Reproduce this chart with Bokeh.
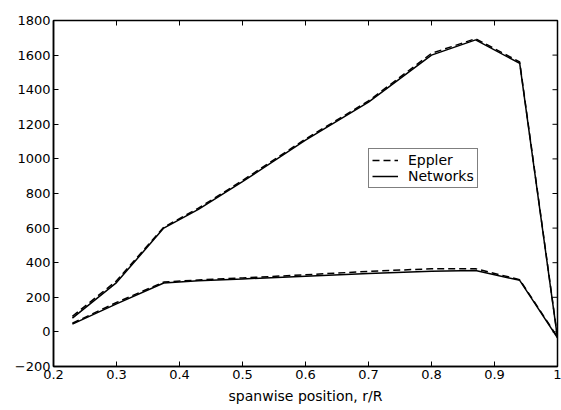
from bokeh.plotting import figure
from bokeh.models import FixedTicker, Legend, LegendItem, Range1d
from bokeh.embed import file_html
from bokeh.resources import INLINE

# spanwise positions
x_pos = [0.23, 0.30, 0.375, 0.43, 0.50, 0.60, 0.70, 0.80, 0.87, 0.94, 1.0]
# upper curve
eppler_upper = [90, 295, 605, 715, 875, 1115, 1335, 1610, 1695, 1560, -30]
networks_upper = [80, 285, 600, 708, 868, 1108, 1328, 1600, 1688, 1552, -35]
# lower curve
eppler_lower = [50, 170, 288, 300, 312, 330, 350, 365, 365, 302, -30]
networks_lower = [45, 162, 283, 296, 306, 322, 338, 350, 355, 298, -35]

x_ticks = [0.2, 0.3, 0.4, 0.5, 0.6, 0.7, 0.8, 0.9, 1.0]
x_tick_labels = ["0.2", "0.3", "0.4", "0.5", "0.6", "0.7", "0.8", "0.9", "1"]
y_ticks = [-200, 0, 200, 400, 600, 800, 1000, 1200, 1400, 1600, 1800]

FONT = "DejaVu Sans"
X0, X1 = 0.2, 1.0
Y0, Y1 = -200, 1800

p = figure(width=561, height=410, output_backend="svg", toolbar_location=None,
           x_range=Range1d(X0, X1), y_range=Range1d(Y0, Y1),
           min_border_left=53, min_border_right=4, min_border_top=20, min_border_bottom=44)
p.background_fill_color = "white"
p.border_fill_color = "white"
p.outline_line_color = "black"
p.outline_line_width = 1.5
p.grid.visible = False

p.xaxis.ticker = FixedTicker(ticks=x_ticks)
p.yaxis.ticker = FixedTicker(ticks=y_ticks)
p.xaxis.major_label_overrides = {t: l for t, l in zip(x_ticks, x_tick_labels)}
p.xaxis.axis_label = "spanwise position, r/R"

for ax in (p.xaxis[0], p.yaxis[0]):
    ax.major_tick_in = 5
    ax.major_tick_out = 0
    ax.minor_tick_line_color = None
    ax.axis_line_color = "black"
    ax.axis_line_width = 1.5
    ax.major_tick_line_color = "black"
    ax.major_label_text_font = FONT
    ax.major_label_text_font_size = "13px"
    ax.major_label_text_color = "black"
    ax.major_label_standoff = 3
    ax.axis_label_text_font = FONT
    ax.axis_label_text_font_size = "14px"
    ax.axis_label_text_font_style = "normal"
    ax.axis_label_text_color = "black"
    ax.axis_label_standoff = 6

# inward ticks on top and right frame edges (tick length ~5 px)
dx = (X1 - X0) / 504 * 5
dy = (Y1 - Y0) / 346 * 5
p.segment(x0=x_ticks, y0=[Y1] * len(x_ticks), x1=x_ticks, y1=[Y1 - dy] * len(x_ticks),
          line_color="black", line_width=1)
p.segment(x0=[X1] * len(y_ticks), y0=y_ticks, x1=[X1 - dx] * len(y_ticks), y1=y_ticks,
          line_color="black", line_width=1)

r1 = p.line(x_pos, eppler_upper, line_color="black", line_width=1.5, line_dash="7 4")
r2 = p.line(x_pos, networks_upper, line_color="black", line_width=1.5)
r3 = p.line(x_pos, eppler_lower, line_color="black", line_width=1.5, line_dash="7 4")
r4 = p.line(x_pos, networks_lower, line_color="black", line_width=1.5)

legend = Legend(items=[LegendItem(label="Eppler", renderers=[r1]),
                       LegendItem(label="Networks", renderers=[r2])],
                location=(315, 178), orientation="vertical")
legend.label_text_font = FONT
legend.label_text_font_size = "14px"
legend.label_text_color = "black"
legend.label_height = 14
legend.glyph_height = 14
legend.glyph_width = 26
legend.label_standoff = 10
legend.spacing = 0
legend.padding = 3
legend.margin = 0
legend.border_line_color = "black"
legend.border_line_width = 1.2
legend.background_fill_alpha = 1
p.add_layout(legend, "center")

open("out.html", "w").write(file_html(p, INLINE))
